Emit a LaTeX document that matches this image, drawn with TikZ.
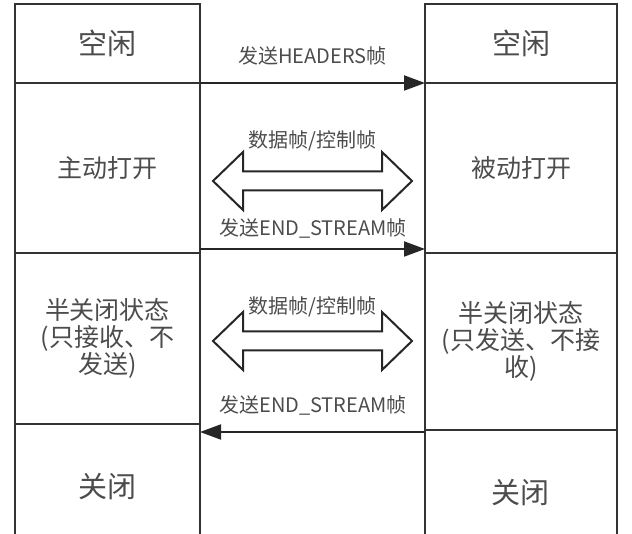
\documentclass[tikz,border=0pt]{standalone}
\usepackage{fontspec}
\setmainfont{Noto Sans CJK SC}
\usepackage{tikz}
\usetikzlibrary{arrows.meta, positioning}

\begin{document}
\begin{tikzpicture}[
    x=1pt, y=-1pt,
    cell/.style={draw=black!80, line width=2pt, align=center, inner sep=0pt, outer sep=0pt,
        text=black!70, font=\fontsize{25}{27}\selectfont},
    big/.style={font=\fontsize{29}{31}\selectfont},
    msg/.style={text=black!70, font=\fontsize{20}{22}\selectfont},
    wall/.style={draw=black!80, line width=2pt},
    send/.style={draw=black!85, line width=2pt, -{Triangle[length=21pt,width=15pt]}},
    fat/.style={draw=black!85, line width=2pt, fill=white, line join=miter}
]
    \useasboundingbox (0,0) rectangle (632,534);
    \coordinate (floor) at (0,534);

    % client side
    \node[cell, big, minimum width=185pt, minimum height=79pt] (l1) at (107.5,43.5) {空闲};
    \node[cell, minimum width=185pt, minimum height=170pt, below=0pt of l1] (l2) {主动打开};
    \node[cell, minimum width=185pt, minimum height=171pt, below=0pt of l2] (l3)
        {半关闭状态\\(只接收、不\\发送)};
    \node[cell, big, draw=none] (l4) at (107.5,487) {关闭};

    % server side
    \node[cell, big, minimum width=192pt, minimum height=79pt] (r1) at (521,43.5) {空闲};
    \node[cell, minimum width=192pt, minimum height=170pt, below=0pt of r1] (r2) {被动打开};
    \node[cell, minimum width=192pt, minimum height=177pt, below=0pt of r2] (r3)
        {半关闭状态\\(只发送、不接\\收)};
    \node[cell, big, draw=none] (r4) at (520,493) {关闭};

    % open bottom cells
    \draw[wall] (l3.south west) -- (l3.south west |- floor);
    \draw[wall] (l3.south east) -- (l3.south east |- floor);
    \draw[wall] (r3.south west) -- (r3.south west |- floor);
    \draw[wall] (r3.south east) -- (r3.south east |- floor);

    % frames
    \coordinate (endA) at ([yshift=4pt]l2.south east);
    \coordinate (endB) at ([yshift=-2pt]r3.south west);
    \draw[send] (l1.south east) -- (r1.south west);
    \draw[send] (endA) -- (endA -| r2.west);
    \draw[send] (endB) -- (endB -| l3.east);

    \node[msg] (hdr) at (312.5,56) {发送HEADERS帧};
    \node[msg] (dataA) at (312.5,141) {数据帧/控制帧};
    \node[msg] (esA) at (313,228) {发送END\_STREAM帧};
    \node[msg] (dataB) at (312.5,307) {数据帧/控制帧};
    \node[msg] (esB) at (313,405) {发送END\_STREAM帧};

    \foreach \c in {181,341}
        \draw[fat] (213,\c) -- ++(30,-29) -- ++(0,19.5) -- ++(139,0) -- ++(0,-19.5)
            -- ++(30,29) -- ++(-30,29) -- ++(0,-19.5) -- ++(-139,0) -- ++(0,19.5) -- cycle;
\end{tikzpicture}
\end{document}
